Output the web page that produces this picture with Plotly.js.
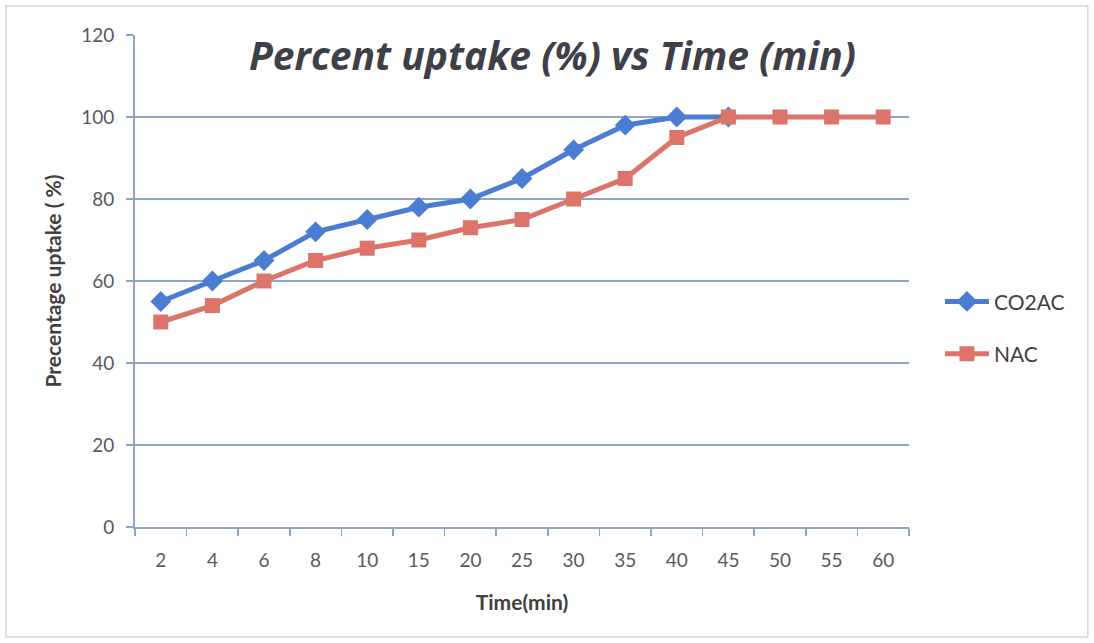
<!DOCTYPE html>
<html>
<head>
<meta charset="utf-8">
<script src="https://cdn.plot.ly/plotly-3.0.1.min.js"></script>
<style>html,body{margin:0;padding:0;background:#fff;}#chart{width:1094px;height:643px;}</style>
</head>
<body>
<div id="chart"></div>
<script>
const categories = ["2","4","6","8","10","15","20","25","30","35","40","45","50","55","60"];
const co2acValues = [55,60,65,72,75,78,80,85,92,98,100,100];
const nacValues = [50,54,60,65,68,70,73,75,80,85,95,100,100,100,100];
const yTicks = [0,20,40,60,80,100,120];

const fontFam = "Lato, 'Open Sans', sans-serif";

const traces = [
  {
    x: categories.slice(0, co2acValues.length), y: co2acValues, name: "CO2AC",
    type: "scatter", mode: "lines+markers", legendgroup: "a",
    line: {color: "#4a7dd1", width: 5},
    marker: {symbol: "diamond", size: 16, color: "#4a7dd1"}
  },
  {
    x: categories, y: nacValues, name: "NAC",
    type: "scatter", mode: "lines+markers", legendgroup: "b",
    line: {color: "#dc746a", width: 5},
    marker: {symbol: "square", size: 15, color: "#dc746a"}
  }
];

const layout = {
  width: 1094, height: 643,
  margin: {l: 135, r: 185, t: 35, b: 116},
  paper_bgcolor: "#ffffff", plot_bgcolor: "#ffffff",
  showlegend: true,
  title: {
    text: "<b><i>Percent uptake (%) vs Time (min)</i></b>",
    font: {family: "'Open Sans', sans-serif", size: 39, color: "#3f4047"},
    x: 0.505, xanchor: "center", y: 0.912, yanchor: "middle", xref: "container", yref: "container"
  },
  xaxis: {
    type: "category", categoryorder: "array", categoryarray: categories,
    range: [-0.5, 14.5],
    showgrid: false, zeroline: false,
    showline: true, linecolor: "#8fa3c8", linewidth: 2,
    ticks: "outside", tickson: "boundaries", ticklen: 7, tickcolor: "#8fa3c8", tickwidth: 1.5,
    ticklabelstandoff: 15,
    tickfont: {family: fontFam, size: 19, color: "#595959"},
    title: {text: "<b>Time(min)</b>", font: {family: fontFam, size: 21, color: "#404040"}, standoff: 26}
  },
  yaxis: {
    range: [0, 120], tickvals: yTicks,
    showgrid: true, gridcolor: "#8fa3c8", gridwidth: 1.5,
    zeroline: false,
    showline: true, linecolor: "#8fa3c8", linewidth: 2,
    ticks: "outside", ticklen: 7, tickcolor: "#8fa3c8", tickwidth: 1.5,
    ticklabelstandoff: 8,
    tickfont: {family: fontFam, size: 19, color: "#595959"},
    title: {text: "<b>Precentage uptake ( %)</b>", font: {family: fontFam, size: 21, color: "#404040"}, standoff: 14}
  },
  legend: {
    x: 1.04, xanchor: "left", y: 0.405, yanchor: "middle",
    font: {family: fontFam, size: 21, color: "#404040"},
    traceorder: "grouped", tracegroupgap: 22,
    bgcolor: "rgba(0,0,0,0)", itemwidth: 44
  },
  shapes: [{
    type: "rect", xref: "paper", yref: "paper",
    x0: -0.1667, x1: 1.231, y0: -0.2236, y1: 1.059,
    line: {color: "#d6d6d6", width: 1.5}, fillcolor: "rgba(0,0,0,0)", layer: "below"
  }]
};

Plotly.newPlot("chart", traces, layout, {displayModeBar: false, staticPlot: true});
</script>
</body>
</html>
